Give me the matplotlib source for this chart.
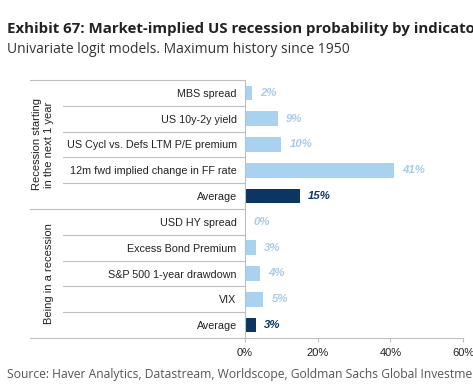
import matplotlib
matplotlib.use('Agg')
import matplotlib.pyplot as plt
import matplotlib.transforms as mtransforms

# Data
categories = ['MBS spread', 'US 10y-2y yield', 'US Cycl vs. Defs LTM P/E premium',
              '12m fwd implied change in FF rate', 'Average',
              'USD HY spread', 'Excess Bond Premium', 'S&P 500 1-year drawdown',
              'VIX', 'Average']
values = [2, 9, 10, 41, 15, 0, 3, 4, 5, 3]
value_labels = ['2%', '9%', '10%', '41%', '15%', '0%', '3%', '4%', '5%', '3%']
is_average = [False, False, False, False, True, False, False, False, False, True]
groups = ['Recession starting\nin the next 1 year', 'Being in a recession']
xticks = [0, 20, 40, 60]
xtick_labels = ['0%', '20%', '40%', '60%']

light = '#A9D1F0'
light_text = '#A8CBEA'
dark = '#0B3562'
grid = '#BFBFBF'

W, H = 473, 392
fig = plt.figure(figsize=(W / 100, H / 100), dpi=100)
ax = fig.add_axes([245 / W, 1 - 338 / H, 218 / W, 258 / H])

ypos = list(range(len(categories)))
colors = [dark if a else light for a in is_average]
ax.barh(ypos, values, height=0.57, color=colors)
ax.set_xlim(0, 60)
ax.set_ylim(len(categories) - 0.5, -0.5)

for y, v, lab, a in zip(ypos, values, value_labels, is_average):
    ax.annotate(lab, (v, y), xytext=(6, 0), textcoords='offset points',
                va='center', ha='left', fontsize=8.2, style='italic',
                fontweight='bold', color=dark if a else light_text,
                family='Liberation Sans')

ax.set_yticks(ypos)
ax.set_yticklabels(categories, fontsize=7.75, family='Liberation Sans', color='#222222')
ax.tick_params(axis='y', length=0, pad=6)
ax.set_xticks(xticks)
ax.set_xticklabels(xtick_labels, fontsize=8, family='Liberation Sans', color='#222222')
ax.tick_params(axis='x', length=3, color=grid, pad=4)

for s in ['top', 'right']:
    ax.spines[s].set_visible(False)
ax.spines['left'].set_color(grid)
ax.spines['bottom'].set_color(grid)

# table-style lines on the left
trans = mtransforms.blended_transform_factory(ax.transAxes, ax.transData)
x_inner = (63 - 245) / 218
x_outer = (30 - 245) / 218
for y in [0.5, 1.5, 2.5, 3.5, 5.5, 6.5, 7.5, 8.5]:
    ax.plot([x_inner, 0], [y, y], color=grid, lw=0.8, transform=trans, clip_on=False)
for y in [-0.5, 4.5]:
    ax.plot([x_outer, 0], [y, y], color=grid, lw=0.8, transform=trans, clip_on=False)
ax.plot([x_outer, 0], [9.5, 9.5], color=grid, lw=0.8, transform=trans, clip_on=False)

# group labels
ax.text((43 - 245) / 218, 2, groups[0], rotation=90, ha='center', va='center',
        fontsize=8, family='Liberation Sans', color='#222222', transform=trans,
        linespacing=1.15)
ax.text((49 - 245) / 218, 7, groups[1], rotation=90, ha='center', va='center',
        fontsize=8, family='Liberation Sans', color='#222222', transform=trans)

fig.text(7 / W, 1 - 33 / H, 'Exhibit 67: Market-implied US recession probability by indicator',
         fontsize=10.8, fontweight='bold', family='Open Sans', color='#222222')
fig.text(7 / W, 1 - 53 / H, 'Univariate logit models. Maximum history since 1950',
         fontsize=10, family='Open Sans', color='#333333')
fig.text(7 / W, 1 - 378 / H, 'Source: Haver Analytics, Datastream, Worldscope, Goldman Sachs Global Investment Research',
         fontsize=8.7, family='Open Sans', color='#555555')

fig.savefig('out.png', dpi=100)
